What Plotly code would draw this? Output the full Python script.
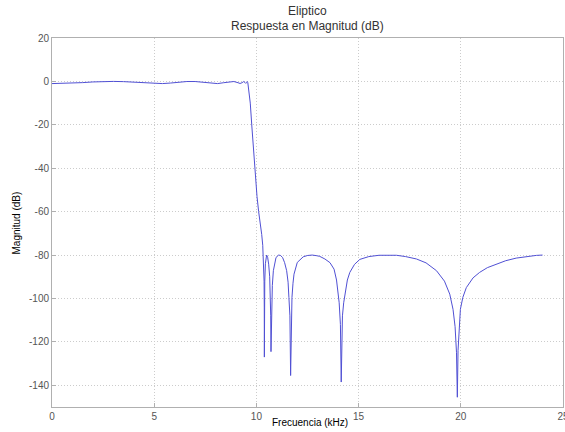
import plotly.graph_objects as go

# Frequency (kHz) and magnitude (dB)
freq_khz = [
    0.0, 0.5, 1.0, 1.5, 2.0, 2.5, 3.0, 3.5, 4.0, 4.5, 5.0, 5.4, 5.8, 6.2, 6.6,
    7.0, 7.4, 7.8, 8.1, 8.4, 8.7, 8.9, 9.1, 9.2, 9.3, 9.38, 9.44, 9.48, 9.52,
    9.55, 9.58, 9.60, 9.64, 9.70, 9.78, 9.86, 9.95, 10.03, 10.11, 10.19, 10.26,
    10.31, 10.355, 10.375, 10.385, 10.39, 10.397, 10.41, 10.44, 10.47, 10.50,
    10.55, 10.60, 10.65, 10.68, 10.70, 10.714, 10.73, 10.74, 10.78, 10.83,
    10.96, 11.09, 11.18, 11.28, 11.38, 11.48, 11.55, 11.59, 11.64, 11.674,
    11.70, 11.74, 11.79, 11.84, 12.0, 12.15, 12.29, 12.5, 12.73, 12.95, 13.1,
    13.35, 13.6, 13.8, 13.92, 14.05, 14.11, 14.15, 14.17, 14.21, 14.27, 14.33,
    14.45, 14.57, 14.8, 15.06, 15.5, 16.0, 16.45, 16.85, 17.3, 17.83, 18.3,
    18.81, 19.2, 19.46, 19.62, 19.72, 19.79, 19.83, 19.865, 19.92, 19.98, 20.1,
    20.27, 20.6, 20.92, 21.3, 21.74, 22.2, 22.71, 23.3, 23.7, 24.0,
]
mag_db = [
    -1.0, -0.95, -0.8, -0.55, -0.25, -0.05, 0.0, -0.1, -0.35, -0.7, -0.95, -1.0,
    -0.75, -0.35, -0.05, -0.05, -0.4, -0.9, -1.0, -0.6, -0.1, -0.05, -0.6,
    -0.95, -0.6, -0.05, -0.5, -0.9, -0.4, -0.05, -0.6, -2.0, -5.5, -10.0,
    -21.0, -33.0, -44.0, -53.0, -60.0, -65.0, -70.5, -75.5, -84.0, -92.0,
    -104.0, -127.0, -104.0, -92.0, -84.0, -81.0, -80.0, -81.0, -84.2, -90.0,
    -99.5, -108.0, -124.5, -110.0, -104.0, -94.0, -87.2, -81.1, -80.0, -80.2,
    -81.1, -83.5, -87.2, -92.5, -99.5, -108.0, -135.5, -110.0, -99.5, -93.0,
    -88.8, -83.4, -81.8, -80.8, -80.2, -80.0, -80.3, -80.6, -81.8, -83.5,
    -86.5, -91.5, -102.0, -112.0, -138.5, -115.0, -108.0, -102.0, -98.0,
    -91.5, -88.0, -84.3, -82.0, -80.7, -80.1, -80.0, -80.1, -80.7, -81.8,
    -83.6, -87.2, -92.0, -98.0, -105.0, -113.0, -125.0, -145.5, -124.0,
    -111.0, -105.0, -99.5, -95.0, -90.5, -88.0, -85.8, -84.2, -82.6, -81.4,
    -80.5, -80.15, -80.0,
]

x_ticks = [0, 5, 10, 15, 20, 25]
x_tick_labels = ["0", "5", "10", "15", "20", "25"]
y_ticks = [-140, -120, -100, -80, -60, -40, -20, 0, 20]
y_tick_labels = ["-140", "-120", "-100", "-80", "-60", "-40", "-20", "0", "20"]

title_lines = ["Eliptico", "Respuesta en Magnitud (dB)"]
x_label = "Frecuencia (kHz)"
y_label = "Magnitud (dB)"

FONT = "Liberation Sans, Arial, sans-serif"

fig = go.Figure()
fig.add_trace(go.Scatter(
    x=freq_khz, y=mag_db, mode="lines",
    line=dict(color="rgb(80,80,212)", width=1),
    hoverinfo="skip", showlegend=False,
))

axis_common = dict(
    showline=True, linecolor="#b0b0b0", linewidth=1, mirror=True,
    showgrid=True, gridcolor="#cccccc", griddash="1px,2px", gridwidth=1,
    zeroline=False, ticks="inside", ticklen=4, tickcolor="#b0b0b0",
    tickfont=dict(family=FONT, size=10, color="#555555"),
    automargin=False, ticklabeloverflow="allow",
)

fig.update_layout(
    width=565, height=432,
    margin=dict(l=52, r=2, t=38, b=25, pad=0),
    paper_bgcolor="white", plot_bgcolor="white",
    font=dict(family=FONT),
    xaxis=dict(range=[0, 25], tickvals=x_ticks, ticktext=x_tick_labels,
               **axis_common),
    yaxis=dict(range=[-150, 20], tickvals=y_ticks, ticktext=y_tick_labels,
               **axis_common),
    annotations=[
        dict(text=title_lines[0], xref="paper", yref="paper", x=0.5, y=1.073,
             showarrow=False, xanchor="center", yanchor="middle",
             font=dict(family=FONT, size=12, color="#333333")),
        dict(text=title_lines[1], xref="paper", yref="paper", x=0.5, y=1.033,
             showarrow=False, xanchor="center", yanchor="middle",
             font=dict(family=FONT, size=12, color="#333333")),
        dict(text=x_label, xref="paper", yref="paper", x=0.505, y=-0.041,
             showarrow=False, xanchor="center", yanchor="middle",
             font=dict(family=FONT, size=10, color="#000000")),
        dict(text=y_label, xref="paper", yref="paper", x=-0.0685, y=0.5,
             showarrow=False, xanchor="center", yanchor="middle", textangle=-90,
             font=dict(family=FONT, size=10, color="#000000")),
    ],
)

fig.write_html(
    "out.html",
    config={"displayModeBar": False, "staticPlot": True},
    post_script="document.body.style.margin='0';document.body.style.overflow='hidden';",
)
